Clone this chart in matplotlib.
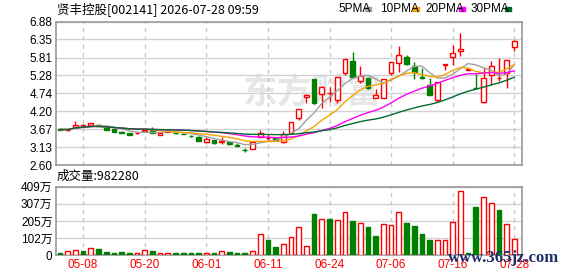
import matplotlib
matplotlib.use("Agg")
import matplotlib.pyplot as plt
from matplotlib.patches import Rectangle
import numpy as np
import pandas as pd

plt.rcParams['font.family'] = ['Liberation Sans', 'Noto Sans CJK SC', 'DejaVu Sans']

# ---- data ----
title = "贤丰控股[002141] 2026-07-28 09:59"

opens = [3.68, 3.64, 3.74, 3.77, 3.78, 3.80, 3.70, 3.67, 3.60, 3.55,
         3.55, 3.62, 3.64, 3.50, 3.60, 3.56, 3.54, 3.48, 3.45, 3.30,
         3.35, 3.28, 3.28, 3.19, 3.06, 3.08, 3.45, 3.41, 3.42, 3.30,
         3.55, 3.99, 4.62, 5.16, 4.71, 4.75, 4.54, 5.34, 5.72, 5.12,
         5.19, 4.61, 4.61, 5.34, 5.64, 5.84, 5.56, 5.23, 4.99, 4.54,
         5.60, 5.82, 6.00, 5.45, 4.90, 4.47, 5.28, 5.20, 5.34, 6.13]
highs = [3.69, 3.67, 3.91, 3.81, 3.85, 3.83, 3.71, 3.68, 3.62, 3.56,
         3.57, 3.68, 3.74, 3.58, 3.62, 3.57, 3.55, 3.50, 3.46, 3.43,
         3.36, 3.45, 3.32, 3.25, 3.12, 3.31, 3.64, 3.52, 3.43, 3.61,
         3.88, 4.27, 4.72, 5.16, 4.95, 4.94, 5.24, 5.76, 5.98, 5.56,
         5.20, 4.86, 5.16, 5.68, 6.15, 5.88, 5.69, 5.49, 5.19, 5.09,
         5.61, 6.17, 6.53, 5.45, 5.31, 5.49, 5.72, 5.79, 5.74, 6.33]
lows = [3.66, 3.63, 3.72, 3.75, 3.77, 3.76, 3.64, 3.58, 3.55, 3.49,
        3.54, 3.60, 3.55, 3.49, 3.59, 3.53, 3.52, 3.44, 3.31, 3.25,
        3.24, 3.22, 3.21, 3.18, 2.98, 3.07, 3.44, 3.33, 3.34, 3.25,
        3.53, 3.94, 4.46, 4.42, 4.31, 4.49, 4.46, 5.30, 5.19, 5.04,
        4.86, 4.59, 4.59, 5.30, 5.39, 5.58, 5.16, 5.16, 4.69, 4.49,
        5.44, 5.59, 5.87, 5.45, 4.89, 4.46, 4.99, 5.12, 4.89, 6.01]
closes = [3.66, 3.66, 3.80, 3.79, 3.84, 3.77, 3.65, 3.59, 3.57, 3.50,
          3.57, 3.66, 3.56, 3.57, 3.61, 3.55, 3.53, 3.47, 3.32, 3.37,
          3.25, 3.33, 3.22, 3.18, 3.05, 3.30, 3.57, 3.42, 3.35, 3.52,
          3.87, 4.26, 4.69, 4.46, 4.94, 4.76, 5.24, 5.76, 5.24, 5.26,
          4.89, 4.69, 5.16, 5.67, 5.89, 5.61, 5.39, 5.21, 4.69, 5.09,
          5.61, 5.94, 6.06, 5.45, 4.89, 5.19, 5.55, 5.21, 5.73, 6.30]
# volume in 万
volumes = [14, 26, 30, 26, 42, 38, 20, 14, 20, 14,
           14, 30, 26, 14, 14, 14, 14, 14, 14, 14,
           14, 26, 20, 14, 14, 26, 127, 91, 50, 68,
           107, 167, 54, 246, 214, 216, 209, 256, 205, 191,
           169, 115, 185, 179, 256, 193, 175, 127, 91, 89,
           89, 199, 381, 14, 288, 346, 310, 270, 187, 98.228]

date_idx = [3, 11, 19, 27, 35, 43, 51, 59]
date_labels = ["05-08", "05-20", "06-01", "06-11", "06-24", "07-06", "07-16", "07-28"]
price_ticks = [2.60, 3.13, 3.67, 4.20, 4.74, 5.28, 5.81, 6.35, 6.88]
vol_ticks = [0, 102, 205, 307, 409]
vol_labels = ["0", "102万", "205万", "307万", "409万"]
ma_names = ["5PMA", "10PMA", "20PMA", "30PMA"]
ma_windows = [5, 10, 20, 30]
ma_colors = ["#a0a0a0", "#f5a300", "#ff00ff", "#006b2e"]

RED = "#ff0000"
GREEN = "#008000"
W, H = 578, 276


def fx(px):
    return px / W


def fy(py):
    return 1 - py / H


fig = plt.figure(figsize=(W / 100, H / 100), dpi=100)
fig.patch.set_facecolor("white")

ax = fig.add_axes([fx(56), fy(165), (522 - 56) / W, (165 - 21.7) / H])
axv = fig.add_axes([fx(56), fy(255.3), (522 - 56) / W, (255.3 - 186.7) / H])

x = np.arange(len(closes))
o = np.array(opens)
hi = np.array(highs)
lo = np.array(lows)
c = np.array(closes)
up = c >= o

# watermark
ax.text(0.55, 0.51, "东方财富", transform=ax.transAxes, ha="center", va="center",
        fontsize=25, fontweight="bold", color="#e6e6e6", family=["Noto Sans CJK SC"], zorder=0)

# candles
ax.vlines(x, lo, hi, colors=np.where(up, RED, GREEN), lw=1, zorder=3)
body_h = np.maximum(np.abs(c - o), 0.005)
ax.bar(x, body_h, bottom=np.minimum(o, c), width=0.62,
       color=np.where(up, "white", GREEN), edgecolor=np.where(up, RED, GREEN),
       lw=1, zorder=4)

# moving averages
for w, col in zip(ma_windows, ma_colors):
    ma = pd.Series(closes).rolling(w, min_periods=1).mean()
    ax.plot(x, ma, color=col, lw=1, zorder=5)

# volume, coloured against the previous close
prev = np.concatenate([[o[0]], c[:-1]])
vol_up = c >= prev
axv.bar(x, volumes, width=0.62, color=np.where(vol_up, "white", GREEN),
        edgecolor=np.where(vol_up, RED, GREEN), lw=1, zorder=3)

for a in (ax, axv):
    a.set_xlim(-0.52, 60.0)
    a.set_xticks(date_idx)
    a.tick_params(length=0, labelsize=8.5, pad=2.5)
    for s in a.spines.values():
        s.set_color("#9a9a9a")
        s.set_linewidth(1.2)
    a.grid(axis="y", color="#d2d2d2", lw=1, zorder=1)
    for d in date_idx:
        a.axvline(d, color="#c8c8c8", lw=1, ls=(0, (3, 3)), zorder=1)
    a.set_axisbelow(True)

ax.set_ylim(2.60, 6.88)
ax.set_yticks(price_ticks)
ax.set_yticklabels(["%.2f" % t for t in price_ticks])
ax.set_xticklabels([])

axv.set_ylim(0, 409)
axv.set_yticks(vol_ticks)
axv.set_yticklabels(vol_labels)
axv.set_xticklabels(date_labels, color=RED)

# texts
fig.text(fx(57), fy(9), title, va="center", ha="left", fontsize=9,
         family=["Noto Sans CJK SC"])
fig.text(fx(57), fy(176), "成交量:%d" % round(volumes[-1] * 10000), va="center",
         ha="left", fontsize=9, family=["Noto Sans CJK SC"])

legend_x = [338, 380, 425, 471]
dash_x = [365, 413, 459, 505]
for name, tx, dx, col in zip(ma_names, legend_x, dash_x, ma_colors):
    fig.text(fx(tx), fy(9), name, va="center", ha="left", fontsize=8.5)
    fig.patches.append(Rectangle((fx(dx), fy(10.5)), 6 / W, 3 / H,
                                 transform=fig.transFigure, color=col))

fig.text(fx(448), fy(258), "www.365jz.com", va="center", ha="left", fontsize=12,
         fontweight="bold", color="#1c2f6b", family=["Liberation Serif"], zorder=10)

fig.savefig("out.png", dpi=100)
